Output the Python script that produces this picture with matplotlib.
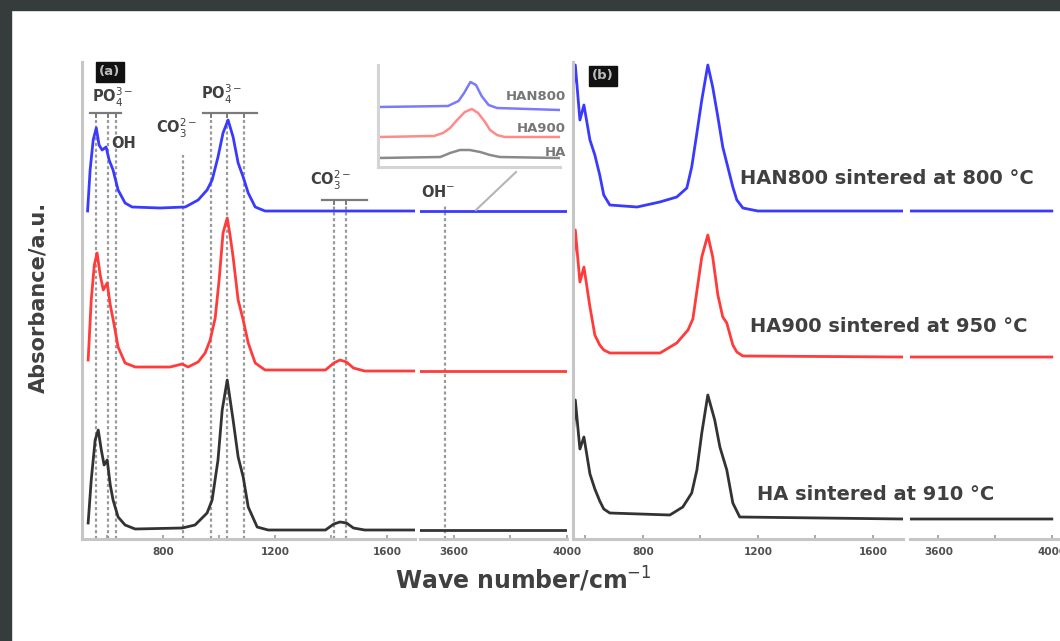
import matplotlib
matplotlib.use('Agg')
import matplotlib.pyplot as plt
from matplotlib.patches import Rectangle
from matplotlib.lines import Line2D

# ---- spectra: wavenumber (cm-1) and absorbance above each trace's baseline ----
# panel (a)
a_blue_wn = [530, 539, 550, 561, 571, 582, 596, 607, 621, 639, 664, 689, 789, 879, 925,
             957, 975, 996, 1014, 1032, 1050, 1068, 1086, 1104, 1129, 1164, 1700, 3480, 4000]
a_blue_ab = [0.0, 0.41, 0.71, 0.83, 0.66, 0.61, 0.64, 0.51, 0.41, 0.21, 0.08, 0.04, 0.03, 0.04, 0.11,
             0.21, 0.31, 0.54, 0.78, 0.91, 0.74, 0.48, 0.34, 0.18, 0.04, 0.0, 0.0, 0.0, 0.0]
a_red_wn = [532, 543, 554, 564, 575, 586, 600, 611, 625, 639, 664, 700, 825, 868, 889, 925, 950,
            968, 986, 1000, 1014, 1029, 1039, 1050, 1068, 1086, 1104, 1129, 1164, 1380, 1410,
            1432, 1455, 1480, 1520, 1700, 3480, 4000]
a_red_ab = [0.11, 0.71, 1.06, 1.18, 0.96, 0.81, 0.88, 0.66, 0.46, 0.24, 0.08, 0.04, 0.04, 0.07, 0.04,
            0.09, 0.18, 0.31, 0.53, 0.91, 1.38, 1.53, 1.36, 1.14, 0.71, 0.51, 0.28, 0.08, 0.01, 0.01,
            0.08, 0.11, 0.09, 0.03, 0.0, 0.0, 0.0, 0.0]
a_black_wn = [532, 543, 557, 568, 579, 589, 600, 611, 621, 639, 664, 700, 868, 914, 957, 975, 996,
              1011, 1029, 1050, 1068, 1086, 1104, 1136, 1175, 1380, 1410, 1432, 1455, 1480, 1520,
              1700, 3480, 4000]
a_black_ab = [0.07, 0.50, 0.90, 1.00, 0.80, 0.65, 0.70, 0.45, 0.30, 0.13, 0.05, 0.01, 0.02, 0.05, 0.17,
              0.30, 0.70, 1.20, 1.50, 1.10, 0.73, 0.53, 0.23, 0.03, 0.0, 0.0, 0.06, 0.08, 0.07, 0.02,
              0.0, 0.0, 0.0, 0.0]
a_offsets = [3.28, 1.68, 0.09]  # blue, red, black

# panel (b)
b_blue_wn = [557, 565, 581, 595, 616, 633, 650, 664, 685, 780, 859, 918, 953, 970, 988, 1005,
             1026, 1043, 1061, 1078, 1092, 1113, 1127, 1148, 1200, 1705, 3500, 4000]
b_blue_ab = [1.20, 1.46, 0.91, 1.06, 0.71, 0.56, 0.36, 0.16, 0.06, 0.04, 0.09, 0.14, 0.23, 0.44,
             0.78, 1.11, 1.46, 1.24, 0.94, 0.64, 0.48, 0.24, 0.11, 0.03, 0.0, 0.0, 0.0, 0.0]
b_red_wn = [557, 565, 581, 595, 616, 633, 650, 664, 685, 860, 918, 957, 974, 990, 1005, 1026,
            1043, 1061, 1078, 1092, 1113, 1127, 1148, 1705, 3500, 4000]
b_red_ab = [0.90, 1.27, 0.75, 0.90, 0.50, 0.22, 0.12, 0.07, 0.04, 0.04, 0.14, 0.27, 0.38, 0.70,
            1.00, 1.22, 1.00, 0.62, 0.40, 0.34, 0.12, 0.05, 0.01, 0.0, 0.0, 0.0]
b_black_wn = [557, 565, 581, 595, 616, 633, 650, 664, 685, 894, 939, 970, 988, 1005, 1026, 1050,
              1068, 1092, 1113, 1137, 1705, 3500, 4000]
b_black_ab = [0.80, 1.19, 0.70, 0.82, 0.45, 0.30, 0.18, 0.10, 0.06, 0.04, 0.12, 0.26, 0.49, 0.86,
              1.24, 0.99, 0.72, 0.49, 0.16, 0.02, 0.0, 0.0, 0.0]
b_offsets = [3.28, 1.82, 0.20]
b_labels = ['HAN800 sintered at 800 \u00b0C', 'HA900 sintered at 950 \u00b0C',
            'HA sintered at 910 \u00b0C']

# inset: OH stretching region
in_blue_wn = [3440, 3540, 3555, 3563, 3572, 3580, 3588, 3598, 3610, 3700]
in_blue_ab = [0.01, 0.02, 0.07, 0.15, 0.26, 0.23, 0.12, 0.03, 0.0, -0.02]
in_red_wn = [3440, 3520, 3533, 3543, 3553, 3564, 3574, 3583, 3593, 3600, 3610, 3621, 3700]
in_red_ab = [0.0, 0.01, 0.04, 0.09, 0.17, 0.25, 0.28, 0.24, 0.15, 0.07, 0.02, 0.0, 0.0]
in_black_wn = [3440, 3529, 3543, 3557, 3571, 3586, 3600, 3614, 3700]
in_black_ab = [0.0, 0.01, 0.05, 0.08, 0.08, 0.06, 0.03, 0.01, 0.0]
in_offsets = [0.59, 0.30, 0.09]
in_labels = ['HAN800', 'HA900', 'HA']

# band positions marked with dotted lines
po4_low = [560, 603, 633]
co3_low = [872]
po4_main = [972, 1027, 1088]
co3_high = [1410, 1455]
oh_band = [3570]

colors = ['#3a3aff', '#ff3b3b', '#333333']
in_colors = ['#7a7aff', '#ff8a8a', '#8a8a8a']
spine_c = '#c6c6c6'
text_c = '#404040'

W, H = 1060, 641
fig = plt.figure(figsize=(W / 100, H / 100), dpi=100)


def fx(px):
    return px / W


def fy(py):
    return 1 - py / H


def add_ax(x0, x1, y0=62, y1=539):
    return fig.add_axes([fx(x0), fy(y1), fx(x1) - fx(x0), (y1 - y0) / H])


def style(ax, left=True, major=(), minor=()):
    for s in ['top', 'right']:
        ax.spines[s].set_visible(False)
    ax.spines['left'].set_visible(left)
    for s in ['left', 'bottom']:
        ax.spines[s].set_color(spine_c)
        ax.spines[s].set_linewidth(2.2)
    ax.set_yticks([])
    ax.set_xticks(major)
    ax.set_xticks(minor, minor=True)
    ax.tick_params(axis='x', which='both', direction='in', length=3, width=1.2,
                   color='#999999', pad=6)
    ax.tick_params(axis='x', labelsize=7.5, labelcolor='#505050')
    for lab in ax.get_xticklabels():
        lab.set_fontweight('bold')
    ax.set_ylim(0, 4.77)
    ax.set_facecolor('none')


# dark frame around the figure
fig.patches.append(Rectangle((0, fy(10)), 1, 1 - fy(10), transform=fig.transFigure,
                             color='#363c3c', zorder=-5))
fig.patches.append(Rectangle((0, 0), fx(11), 1, transform=fig.transFigure,
                             color='#363c3c', zorder=-5))

# ---------------- panel (a) ----------------
ax_a1 = add_ax(82, 415)
ax_a2 = add_ax(420, 567)
ax_a1.set_xlim(510, 1700)
ax_a2.set_xlim(3480, 4000)
style(ax_a1, True, [800, 1200, 1600], [600, 1000, 1400])
style(ax_a2, False, [3600, 4000], [3800])

a_data = [(a_blue_wn, a_blue_ab), (a_red_wn, a_red_ab), (a_black_wn, a_black_ab)]
for ax in (ax_a1, ax_a2):
    for (wn, ab), off, c in zip(a_data, a_offsets, colors):
        ax.plot(wn, [v + off for v in ab], color=c, lw=2.0, solid_joinstyle='round')

dot = dict(color='#9a9a9a', lw=1.6, ls=(0, (1.4, 1.2)), zorder=0)
top_frac = lambda py: (539 - py) / 477
for w in po4_low + po4_main:
    ax_a1.axvline(w, 0, top_frac(117), **dot)
for w in co3_low:
    ax_a1.axvline(w, 0, top_frac(155), **dot)
for w in co3_high:
    ax_a1.axvline(w, 0, top_frac(204), **dot)
for w in oh_band:
    ax_a2.axvline(w, 0, top_frac(204), **dot)


def bracket(ax, x0, x1, ticks, py):
    tr = ax.get_xaxis_transform()
    yb = top_frac(py)
    yt = top_frac(py + 4)
    ax.add_line(Line2D([x0, x1], [yb, yb], transform=tr, color='#7a7a7a', lw=1.6, clip_on=False))
    for t in ticks:
        ax.add_line(Line2D([t, t], [yb, yt], transform=tr, color='#7a7a7a', lw=1.4, clip_on=False))


bracket(ax_a1, 540, 650, po4_low, 113)
bracket(ax_a1, 943, 1136, po4_main, 113)
bracket(ax_a1, 1368, 1530, co3_high, 200)

ann = dict(fontsize=10.5, fontweight='bold', color=text_c, va='center', ha='left')
fig.text(fx(92), fy(97), 'PO$_4^{3-}$', **ann)
fig.text(fx(111), fy(144), 'OH', **ann)
fig.text(fx(156), fy(128), 'CO$_3^{2-}$', **ann)
fig.text(fx(201), fy(94), 'PO$_4^{3-}$', **ann)
fig.text(fx(310), fy(180), 'CO$_3^{2-}$', **ann)
fig.text(fx(421), fy(192), 'OH$^{-}$', **ann)

box = dict(boxstyle='square,pad=0.25', facecolor='#111111', edgecolor='#111111')
fig.text(fx(110), fy(72), '(a)', fontsize=9.5, fontweight='bold', color='#bbbbbb',
         ha='center', va='center', bbox=box)

# inset of the OH band
ax_in = add_ax(378, 560, 65, 167)
ax_in.set_xlim(3440, 3700)
ax_in.set_ylim(0, 1.02)
for s in ['top', 'right']:
    ax_in.spines[s].set_visible(False)
for s in ['left', 'bottom']:
    ax_in.spines[s].set_color('#d4d4d4')
    ax_in.spines[s].set_linewidth(2.2)
ax_in.set_xticks([])
ax_in.set_yticks([])
ax_in.set_facecolor('none')
in_data = [(in_blue_wn, in_blue_ab), (in_red_wn, in_red_ab), (in_black_wn, in_black_ab)]
for (wn, ab), off, c in zip(in_data, in_offsets, in_colors):
    ax_in.plot(wn, [v + off for v in ab], color=c, lw=1.8)
for lab, py in zip(in_labels, [97, 128, 152]):
    fig.text(fx(566), fy(py), lab, fontsize=9.5, fontweight='bold', color='#777777',
             ha='right', va='center')
fig.add_artist(Line2D([fx(476), fx(516)], [fy(210), fy(172)], color='#b4b4b4', lw=1.5))

# ---------------- panel (b) ----------------
ax_b1 = add_ax(573, 903)
ax_b2 = add_ax(910, 1066)
ax_b1.set_xlim(557, 1705)
ax_b2.set_xlim(3500, 4050)
style(ax_b1, True, [800, 1200, 1600], [600, 1000, 1400])
style(ax_b2, False, [3600, 4000], [3800])

b_data = [(b_blue_wn, b_blue_ab), (b_red_wn, b_red_ab), (b_black_wn, b_black_ab)]
for ax in (ax_b1, ax_b2):
    for (wn, ab), off, c in zip(b_data, b_offsets, colors):
        ax.plot(wn, [v + off for v in ab], color=c, lw=2.0, solid_joinstyle='round')

for lab, px, py in zip(b_labels, [740, 750, 757], [179, 326, 494]):
    fig.text(fx(px), fy(py), lab, fontsize=14, fontweight='bold', color=text_c,
             ha='left', va='center')
fig.text(fx(603), fy(76), '(b)', fontsize=9.5, fontweight='bold', color='#bbbbbb',
         ha='center', va='center', bbox=box)

# axis titles
fig.text(fx(38), fy(297), 'Absorbance/a.u.', rotation=90, fontsize=15, fontweight='bold',
         color=text_c, ha='center', va='center')
fig.text(fx(523), fy(579), 'Wave number/cm$^{-1}$', fontsize=17, fontweight='bold',
         color=text_c, ha='center', va='center')

fig.savefig('out.png', dpi=100)
